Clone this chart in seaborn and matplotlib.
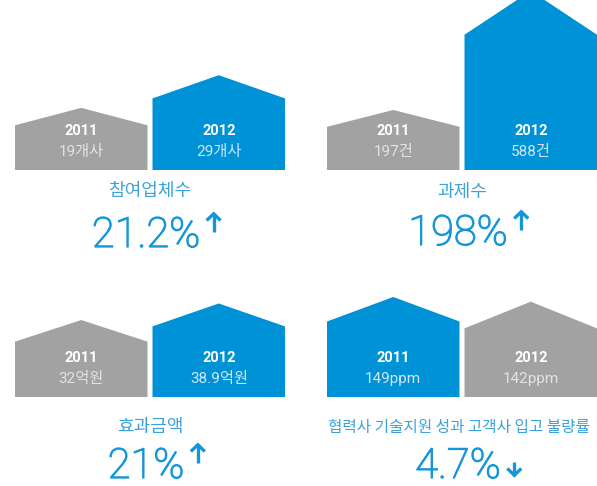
import matplotlib
matplotlib.use("Agg")
import matplotlib.pyplot as plt
import matplotlib.patheffects as pe
import seaborn as sns
import pandas as pd
from matplotlib.patches import Polygon
from matplotlib.lines import Line2D
from matplotlib.transforms import IdentityTransform

sns.set_theme(style="white")
plt.rcParams['font.family'] = ['Roboto', 'Noto Sans CJK KR', 'DejaVu Sans']

# ---- data ----
years = ["2011", "2012"]
titles = ["참여업체수", "과제수", "효과금액", "협력사 기술지원 성과 고객사 입고 불량률"]
values = [[19, 29], [197, 588], [32, 38.9], [149, 142]]
value_labels = [["19개사", "29개사"], ["197건", "588건"], ["32억원", "38.9억원"], ["149ppm", "142ppm"]]
changes = ["21.2%", "198%", "21%", "4.7%"]
directions = ["up", "up", "up", "down"]

# ---- style ----
BLUE = "#0092d6"
GRAY = "#a2a2a2"
TITLE_BLUE = "#3aa3dd"
PCT_BLUE = "#1496d8"
ROOF = {BLUE: 0.245, GRAY: 0.28}

W, H = 597, 486
PANEL_W = 270
BAR_W = 132 / 137

# pixel layout of each panel: left edge, ground line, top, y-range, title anchor
panels = [
    dict(left=15, base=170, top=0, ymax=52.0, title_dy=21, pct_base=77,
         title_ha="center", title_size=13),
    dict(left=327, base=170, top=0, ymax=558.0, title_dy=22, pct_base=75,
         title_ha="center", title_size=13),
    dict(left=15, base=397, top=290, ymax=44.5, title_dy=30, pct_base=81,
         title_ha="center", title_size=13),
    dict(left=327, base=397, top=290, ymax=159.4, title_dy=30, pct_base=81,
         title_ha="left", title_size=11.3),
]

fig = plt.figure(figsize=(W / 100, H / 100), dpi=100)
fig.patch.set_facecolor("white")


def fy(y):
    return 1 - y / H


def draw_arrow(x_left, y_top, y_bot, up):
    """Bold arrow drawn in pixel coordinates (y measured from the top)."""
    width = 15
    head = 7.5
    xc = x_left + width / 2
    t = IdentityTransform()
    kw = dict(color=PCT_BLUE, lw=2.4, transform=t, solid_capstyle="butt",
              solid_joinstyle="miter")
    fig.add_artist(Line2D([xc, xc], [H - y_top, H - y_bot], **kw))
    xs = [x_left + 0.5, xc, x_left + width - 0.5]
    if up:
        ys = [H - (y_top + head), H - y_top - 0.8, H - (y_top + head)]
    else:
        ys = [H - (y_bot - head), H - y_bot + 0.8, H - (y_bot - head)]
    fig.add_artist(Line2D(xs, ys, **kw))


renderer = fig.canvas.get_renderer()

for p, title, vals, vlabels, pct, dirn in zip(panels, titles, values, value_labels,
                                               changes, directions):
    ax = fig.add_axes([p["left"] / W, fy(p["base"]), PANEL_W / W,
                       (p["base"] - p["top"]) / H])
    df = pd.DataFrame({"year": years, "value": vals})
    colors = [BLUE if v == max(vals) else GRAY for v in vals]
    sns.barplot(data=df, x="year", y="value", hue="year", palette=colors,
                width=BAR_W, saturation=1, legend=False, ax=ax)

    # turn each bar into a house shape of the same height
    bars = sorted(list(ax.patches), key=lambda r: r.get_x())
    for i, bar in enumerate(bars):
        x0, w, h = bar.get_x(), bar.get_width(), bar.get_height()
        col = colors[i]
        r = ROOF[col]
        bar.remove()
        house = Polygon([(x0, 0), (x0, h * (1 - r)), (x0 + w / 2, h),
                         (x0 + w, h * (1 - r)), (x0 + w, 0)],
                        closed=True, facecolor=col, edgecolor="none")
        ax.add_patch(house)
        xc = x0 + w / 2
        ax.annotate(years[i], xy=(xc, 0), xytext=(0, 39), textcoords="offset pixels",
                    ha="center", va="center", fontsize=10.5, fontweight="bold",
                    color="white")
        ax.annotate(vlabels[i], xy=(xc, 0), xytext=(0, 18), textcoords="offset pixels",
                    ha="center", va="center", fontsize=11, fontweight="normal",
                    color="#cfe7f6" if col == BLUE else "#e2e2e2")

    ax.set_xlim(-BAR_W / 2, 1 + BAR_W / 2)
    ax.set_ylim(0, p["ymax"])
    ax.set_axis_off()

    cx = p["left"] + PANEL_W / 2
    tx = cx if p["title_ha"] == "center" else p["left"] + 1
    fig.text(tx / W, fy(p["base"] + p["title_dy"]), title, ha=p["title_ha"],
             va="center", fontsize=p["title_size"], color=TITLE_BLUE,
             family=["Noto Sans CJK KR", "DejaVu Sans"])

    baseline = p["base"] + p["pct_base"]
    t = fig.text((cx - 4) / W, fy(baseline), pct, ha="center", va="baseline",
                 fontsize=30, fontweight="light", color=PCT_BLUE,
                 family=["Roboto", "DejaVu Sans"],
                 path_effects=[pe.withStroke(linewidth=0.9, foreground=PCT_BLUE)])
    bb = t.get_window_extent(renderer=renderer)
    x_arrow = bb.x1 + 6
    if dirn == "up":
        draw_arrow(x_arrow, baseline - 34, baseline - 15, True)
    else:
        draw_arrow(x_arrow, baseline - 16, baseline - 2, False)

fig.savefig("out.png", dpi=100, facecolor="white")
